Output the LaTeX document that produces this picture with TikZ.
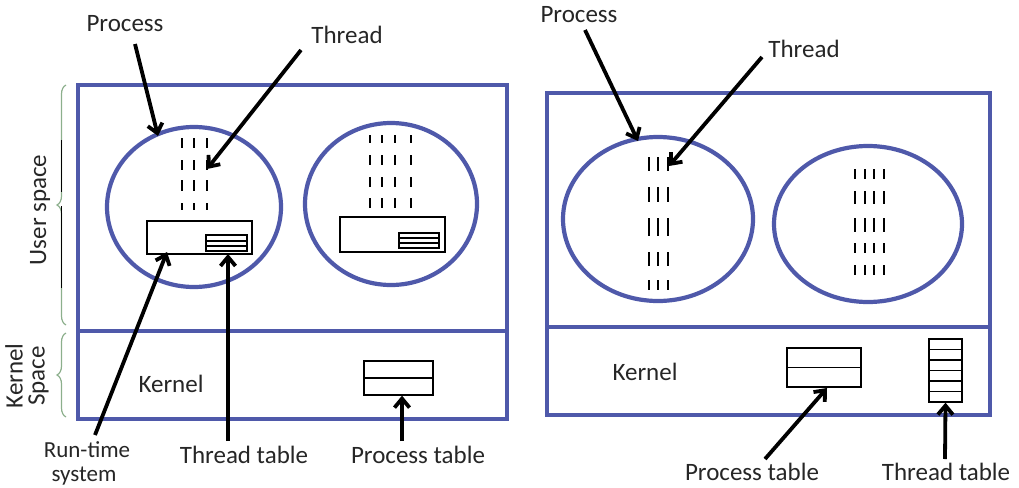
\documentclass[tikz,border=0pt]{standalone}
\usepackage{fontspec}
\setmainfont{Carlito}
\usetikzlibrary{arrows.meta,decorations.pathreplacing}
\definecolor{frameblue}{RGB}{79,89,170}
\definecolor{bracegreen}{RGB}{140,175,140}
\tikzset{
  frame/.style={draw=frameblue,line width=3.6pt},
  proc/.style={draw=frameblue,line width=4.2pt},
  thr/.style={draw=black,line width=1.4pt},
  tbl/.style={draw=black,line width=1.3pt},
  ptr/.style={draw=black,line width=3.8pt,-{Straight Barb[length=9pt,width=15pt,line width=3.8pt]}},
  lbl/.style={font=\fontsize{25}{22}\selectfont,text=black!85,inner sep=1pt},
  bracestyle/.style={draw=bracegreen,line width=1.2pt,decorate,decoration={brace,amplitude=9pt}},
}
\begin{document}
\begin{tikzpicture}[x=1pt,y=-1pt]
\useasboundingbox (0,0) rectangle (1019,487);

% ===== Left diagram =====
\draw[frame] (78,85) rectangle (507,419);
\draw[frame] (78,331) -- (507,331);

\draw[proc] (194,207) ellipse [x radius=87, y radius=80];
\draw[proc] (391,204) ellipse [x radius=86, y radius=81];

% threads circle 1
\foreach \x in {182,194,207}{
  \foreach \a/\b in {138/148,160/170,180/191,203/210}{
    \draw[thr] (\x,\a) -- (\x,\b);}}
% threads circle 2
\foreach \x in {370,382,395,411}{
  \foreach \a/\b in {135/143,155/165,177/187,198/208}{
    \draw[thr] (\x,\a) -- (\x,\b);}}

% run-time system boxes
\draw[tbl] (147,221) rectangle (252,254);
\draw[line width=2pt] (147,221) -- (252,221);
\draw[tbl] (206,235) rectangle (247,251);
\draw[tbl] (206,241) -- (247,241) (206,246) -- (247,246);

\draw[tbl] (340,217) rectangle (445,252);
\draw[line width=2.4pt] (340,217) -- (445,217);
\draw[tbl] (399,233) rectangle (439,248);
\draw[tbl] (399,238) -- (439,238) (399,243) -- (439,243);

% process table (left)
\node[draw,line width=1.3pt,minimum width=69pt,minimum height=34pt,inner sep=0pt] (ptL) at (398.5,378) {};
\draw[tbl] (ptL.west) -- (ptL.east);

\node[lbl] (kernL) at (171,384) {Kernel};

% braces
\draw[bracestyle] (66,325) -- (66,85);
\draw[bracestyle] (66,417) -- (66,333);
\draw[black,line width=1.2pt] (61.5,140) -- (61.5,192) (61.5,206) -- (61.5,288);
\node[lbl,rotate=90] (us) at (40,210) {User space};
\node[lbl,rotate=90,align=center,font=\fontsize{25}{22}\selectfont] (ks) at (27,376) {Kernel\\Space};

% labels
\node[lbl,anchor=base] (procL) at (125,32) {Process};
\node[lbl,anchor=base] (thrL) at (347,44) {Thread};
\node[lbl,anchor=base,font=\fontsize{23}{22}\selectfont,inner sep=0pt] (rts1) at (87,457) {Run-time};
\node[lbl,anchor=base,font=\fontsize{23}{22}\selectfont,inner sep=0pt] (rts2) at (84,481) {system};
\node[lbl,anchor=base] (ttL) at (244,463) {Thread table};
\node[lbl,anchor=base] (ptlL) at (418,463) {Process table};

\coordinate (aProcL) at (158,136);
\coordinate (aThrL) at (207,169);
\coordinate (aRts) at (167,252);
\coordinate (aTtL) at (228,254);
\coordinate (sProcL) at (135,44);
\coordinate (sThrL) at (301,50);
\coordinate (sRts) at (95,435);
\coordinate (sTtL) at (228,441);
\coordinate (sPtL) at (402,441);

\draw[ptr] (sProcL) -- (aProcL);
\draw[ptr] (sThrL) -- (aThrL);
\draw[ptr] (sRts) -- (aRts);
\draw[ptr] (sTtL) -- (aTtL);
\draw[ptr] (sPtL) -- (ptL.south -| sPtL);

% ===== Right diagram =====
\draw[frame] (547,93) rectangle (990,415);
\draw[frame] (547,327) -- (990,327);

\draw[proc] (658,219) ellipse [x radius=95, y radius=82];
\draw[proc] (868,224) ellipse [x radius=94, y radius=78];

\foreach \x in {649,658,668}{
  \foreach \a/\b in {157/171,187/202,218/236,252/266,280/290}{
    \draw[thr] (\x,\a) -- (\x,\b);}}
\foreach \x in {855,865,874,884}{
  \foreach \a/\b in {169/179,191/204,218/232,243/253,265/275}{
    \draw[thr] (\x,\a) -- (\x,\b);}}

\node[draw,line width=1.3pt,minimum width=74pt,minimum height=39pt,inner sep=0pt] (ptR) at (824,367.5) {};
\draw[tbl] (ptR.west) -- (ptR.east);

\node[draw,line width=1.3pt,minimum width=33pt,minimum height=63pt,inner sep=0pt] (ttR) at (945.5,370.5) {};
\foreach \i in {1,...,5}{
  \draw[tbl] (929,339+\i*10.5) -- (962,339+\i*10.5);}

\node[lbl] (kernR) at (645,372) {Kernel};

\node[lbl,anchor=base] (procR) at (579,23) {Process};
\node[lbl,anchor=base] (thrR) at (804,57) {Thread};
\node[lbl,anchor=base] (ptlR) at (752,480) {Process table};
\node[lbl,anchor=base] (ttlR) at (946,480) {Thread table};

\coordinate (sProcR) at (585,30);
\coordinate (aProcR) at (638,141);
\coordinate (sThrR) at (762,57);
\coordinate (aThrR) at (669,166);
\coordinate (sPtR) at (765,459);
\coordinate (aPtR) at (827,388);
\coordinate (sTtR) at (945,459);

\draw[ptr] (sProcR) -- (aProcR);
\draw[ptr] (sThrR) -- (aThrR);
\draw[ptr] (sPtR) -- (aPtR);
\draw[ptr] (sTtR) -- (ttR.south);
\end{tikzpicture}
\end{document}
